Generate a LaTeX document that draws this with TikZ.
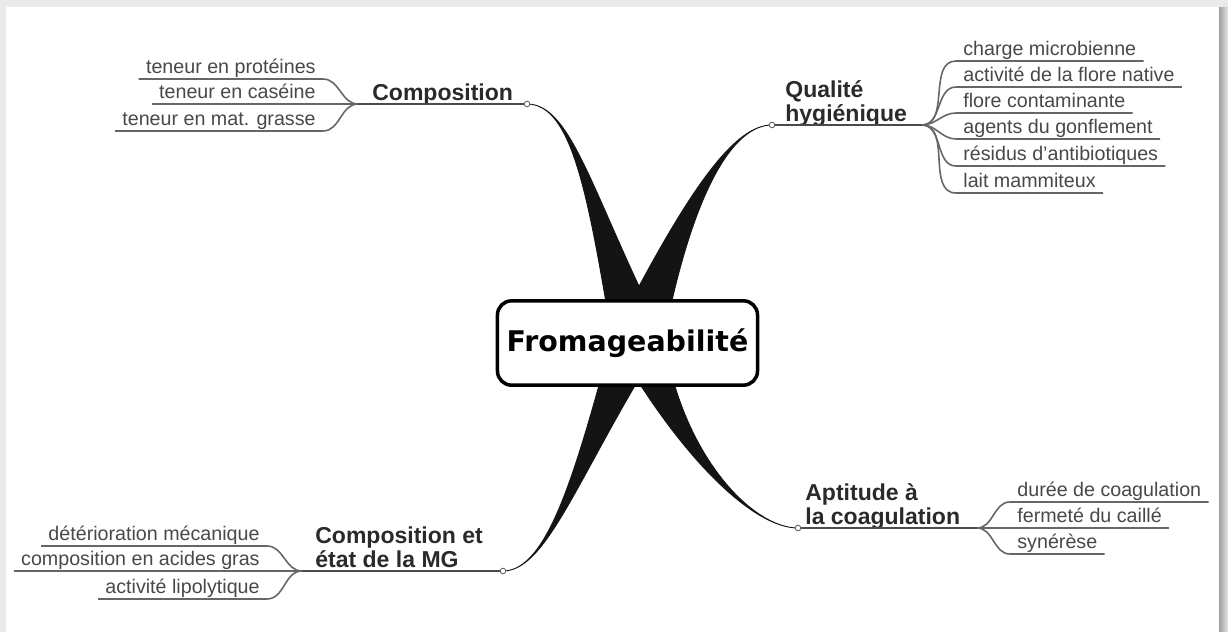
\documentclass[tikz,border=0pt]{standalone}
\usepackage{fontspec}
\setmainfont{Liberation Sans}
\newfontfamily\dejavu{DejaVu Sans}
\usetikzlibrary{calc}
\definecolor{leafgray}{HTML}{484848}
\definecolor{topicgray}{HTML}{2A2A2A}
\definecolor{linegray}{HTML}{666666}
\definecolor{framegray}{HTML}{EAEAEA}

\begin{document}
\begin{tikzpicture}[x=0.02cm,y=-0.02cm,
	center node/.style={draw,line width=2pt,rounded corners=8pt,fill=white,minimum width=148pt,minimum height=48pt,inner sep=0pt,font=\dejavu\bfseries\fontsize{16.2}{18}\selectfont},
	topic node/.style={inner sep=0pt,align=left,text=topicgray,font=\bfseries\fontsize{13.1}{13.6}\selectfont},
	leaf node/.style={inner xsep=4pt,inner ysep=2.8pt,text depth=0pt,text=leafgray,font=\fontsize{11.2}{13}\selectfont},
	leaf line/.style={draw=linegray,line width=0.9pt},
	topic line/.style={draw=topicgray!85,line width=1pt},
	branch/.style={fill=black!92,draw=black!92,line width=0.5pt,line join=round},
	end dot/.style={fill=white,draw=linegray,line width=0.5pt}]
	
	\useasboundingbox (0,0) rectangle (1228,632);
	\fill[framegray] (0,0) rectangle (1228,7);
	\fill[framegray] (0,0) rectangle (6,632);
	\shade[left color=gray!75,right color=gray!20] (1219,7) rectangle (1228,632);
	
	\coordinate (hub) at (638,338);
	\coordinate (cC) at (527,104);
	\coordinate (jC) at (358,104);
	\coordinate (cQ) at (772,125);
	\coordinate (jQ) at (922,125);
	\coordinate (cM) at (503,571);
	\coordinate (jM) at (302,571);
	\coordinate (cA) at (798,528);
	\coordinate (jA) at (977,528);
	
	% thick branches
	\filldraw[branch] (cC) .. controls (572,104) and (588,195) .. ($(hub)+(-26,0)$) -- ($(hub)+(26,0)$) .. controls (592,195) and (572,104) .. (cC);
	\filldraw[branch] (cQ) .. controls (735,125) and (690,185) .. ($(hub)+(-26,0)$) -- ($(hub)+(26,0)$) .. controls (694,185) and (735,125) .. (cQ);
	\filldraw[branch] (cM) .. controls (548,571) and (576,470) .. ($(hub)+(-26,0)$) -- ($(hub)+(26,0)$) .. controls (580,470) and (548,571) .. (cM);
	\filldraw[branch] (cA) .. controls (752,528) and (678,455) .. ($(hub)+(-26,0)$) -- ($(hub)+(26,0)$) .. controls (682,455) and (752,528) .. (cA);
	
	\node[center node] (fromage) at (627.5,343) {Fromageabilité};
	
	% main topics
	\node[topic node,anchor=south west] (compo) at (372,107.7) {Composition\strut};
	\node[topic node,anchor=south west] (qualite) at (785,128.7) {Qualité\\hygiénique\strut};
	\node[topic node,anchor=south west] (mg) at (315,574.7) {Composition et\\état de la MG\strut};
	\node[topic node,anchor=south west] (aptitude) at (805,531.7) {Aptitude à\\la coagulation\strut};
	
	\draw[topic line] (jC) -- (cC);
	\draw[topic line] (cQ) -- (jQ);
	\draw[topic line] (jM) -- (cM);
	\draw[topic line] (cA) -- (jA);
	\foreach \d in {cC,cQ,cM,cA}
	\draw[end dot] (\d) circle (1.6pt);
	
	% leaves
	\node[leaf node,anchor=south east] (c1) at (323,79) {teneur en protéines};
	\node[leaf node,anchor=south east] (c2) at (323,104) {teneur en caséine};
	\node[leaf node,anchor=south east] (c3) at (323,131) {teneur en mat. grasse};
	
	\node[leaf node,anchor=south west] (q1) at (956,61) {charge microbienne};
	\node[leaf node,anchor=south west] (q2) at (956,87) {activité de la flore native};
	\node[leaf node,anchor=south west] (q3) at (956,113) {flore contaminante};
	\node[leaf node,anchor=south west] (q4) at (956,139) {agents du gonflement};
	\node[leaf node,anchor=south west] (q5) at (956,166) {résidus d'antibiotiques};
	\node[leaf node,anchor=south west] (q6) at (956,193) {lait mammiteux};
	
	\node[leaf node,anchor=south east] (m1) at (267,546) {détérioration mécanique};
	\node[leaf node,anchor=south east] (m2) at (267,571) {composition en acides gras};
	\node[leaf node,anchor=south east] (m3) at (267,599) {activité lipolytique};
	
	\node[leaf node,anchor=south west] (a1) at (1010,502) {durée de coagulation};
	\node[leaf node,anchor=south west] (a2) at (1010,528) {fermeté du caillé};
	\node[leaf node,anchor=south west] (a3) at (1010,554) {synérèse};
	
	\draw[leaf line] (jC) to[out=180,in=0] (c1.south east) -- (c1.south west);
	\draw[leaf line] (jC) to[out=180,in=0] (c2.south east) -- (c2.south west);
	\draw[leaf line] (jC) to[out=180,in=0] (c3.south east) -- (c3.south west);
	
	\draw[leaf line] (jQ) to[out=0,in=180] (q1.south west) -- (q1.south east);
	\draw[leaf line] (jQ) to[out=0,in=180] (q2.south west) -- (q2.south east);
	\draw[leaf line] (jQ) to[out=0,in=180] (q3.south west) -- (q3.south east);
	\draw[leaf line] (jQ) to[out=0,in=180] (q4.south west) -- (q4.south east);
	\draw[leaf line] (jQ) to[out=0,in=180] (q5.south west) -- (q5.south east);
	\draw[leaf line] (jQ) to[out=0,in=180] (q6.south west) -- (q6.south east);
	
	\draw[leaf line] (jM) to[out=180,in=0] (m1.south east) -- (m1.south west);
	\draw[leaf line] (jM) to[out=180,in=0] (m2.south east) -- (m2.south west);
	\draw[leaf line] (jM) to[out=180,in=0] (m3.south east) -- (m3.south west);
	
	\draw[leaf line] (jA) to[out=0,in=180] (a1.south west) -- (a1.south east);
	\draw[leaf line] (jA) to[out=0,in=180] (a2.south west) -- (a2.south east);
	\draw[leaf line] (jA) to[out=0,in=180] (a3.south west) -- (a3.south east);
	
\end{tikzpicture}
\end{document}
